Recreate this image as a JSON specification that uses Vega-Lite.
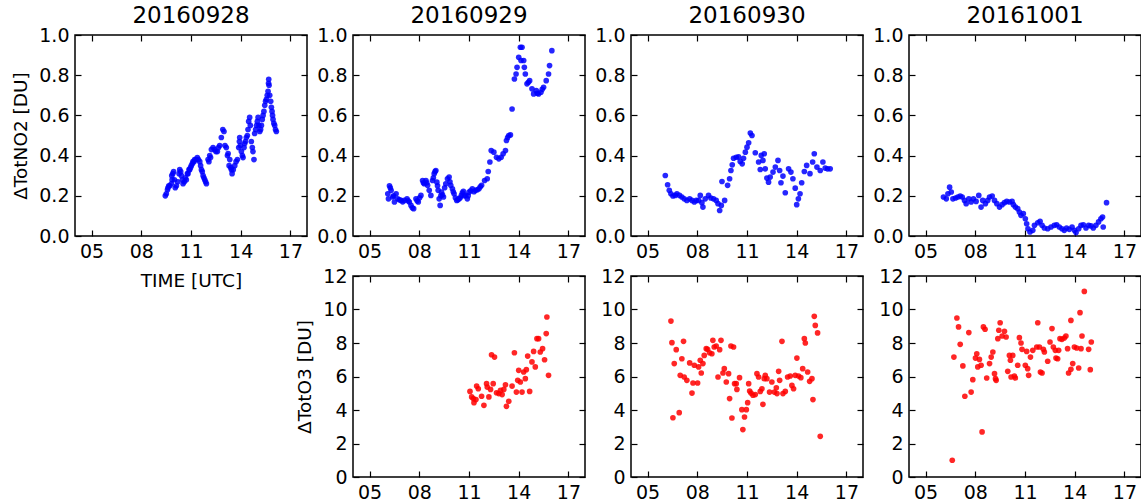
{
  "$schema": "https://vega.github.io/schema/vega-lite/v6.json",
  "padding": {"left": 11, "top": 4, "right": 0, "bottom": 0},
  "background": "white",
  "datasets": {
    "n28": [
      {"t":9.45,"v":0.20},{"t":9.51,"v":0.21},{"t":9.58,"v":0.23},{"t":9.61,"v":0.24},{"t":9.66,"v":0.25},{"t":9.72,"v":0.25},{"t":9.81,"v":0.26},{"t":9.84,"v":0.30},{"t":9.86,"v":0.28},{"t":9.9,"v":0.31},
      {"t":9.95,"v":0.32},{"t":10.0,"v":0.28},{"t":10.05,"v":0.24},{"t":10.12,"v":0.25},{"t":10.2,"v":0.27},{"t":10.28,"v":0.31},{"t":10.32,"v":0.33},{"t":10.38,"v":0.32},{"t":10.42,"v":0.30},{"t":10.48,"v":0.28},
      {"t":10.52,"v":0.26},{"t":10.6,"v":0.27},{"t":10.66,"v":0.29},{"t":10.72,"v":0.28},{"t":10.78,"v":0.31},{"t":10.82,"v":0.31},{"t":10.88,"v":0.33},{"t":10.92,"v":0.33},{"t":10.97,"v":0.34},{"t":11.02,"v":0.35},
      {"t":11.08,"v":0.36},{"t":11.12,"v":0.37},{"t":11.18,"v":0.37},{"t":11.22,"v":0.38},{"t":11.3,"v":0.38},{"t":11.38,"v":0.39},{"t":11.45,"v":0.38},{"t":11.53,"v":0.37},{"t":11.58,"v":0.35},{"t":11.63,"v":0.33},
      {"t":11.68,"v":0.32},{"t":11.73,"v":0.30},{"t":11.78,"v":0.29},{"t":11.83,"v":0.28},{"t":11.88,"v":0.27},{"t":11.93,"v":0.26},{"t":12.03,"v":0.38},{"t":12.08,"v":0.37},{"t":12.13,"v":0.40},{"t":12.18,"v":0.39},
      {"t":12.23,"v":0.43},{"t":12.33,"v":0.44},{"t":12.43,"v":0.43},{"t":12.5,"v":0.42},{"t":12.59,"v":0.42},{"t":12.66,"v":0.44},{"t":12.73,"v":0.45},{"t":12.83,"v":0.49},{"t":12.92,"v":0.53},{"t":12.99,"v":0.52},
      {"t":13.05,"v":0.45},{"t":13.13,"v":0.44},{"t":13.2,"v":0.40},{"t":13.24,"v":0.41},{"t":13.3,"v":0.35},{"t":13.34,"v":0.38},{"t":13.4,"v":0.34},{"t":13.44,"v":0.33},{"t":13.48,"v":0.31},{"t":13.55,"v":0.33},
      {"t":13.64,"v":0.35},{"t":13.72,"v":0.37},{"t":13.8,"v":0.38},{"t":13.88,"v":0.44},{"t":13.92,"v":0.47},{"t":13.94,"v":0.49},{"t":13.98,"v":0.45},{"t":14.04,"v":0.42},{"t":14.1,"v":0.40},{"t":14.14,"v":0.39},
      {"t":14.2,"v":0.44},{"t":14.24,"v":0.46},{"t":14.28,"v":0.47},{"t":14.34,"v":0.49},{"t":14.4,"v":0.50},{"t":14.44,"v":0.53},{"t":14.48,"v":0.57},{"t":14.54,"v":0.59},{"t":14.58,"v":0.55},{"t":14.64,"v":0.47},
      {"t":14.7,"v":0.44},{"t":14.74,"v":0.42},{"t":14.8,"v":0.38},{"t":14.84,"v":0.51},{"t":14.9,"v":0.53},{"t":14.95,"v":0.55},{"t":15.0,"v":0.57},{"t":15.05,"v":0.59},{"t":15.1,"v":0.55},{"t":15.15,"v":0.52},
      {"t":15.2,"v":0.53},{"t":15.25,"v":0.55},{"t":15.3,"v":0.58},{"t":15.35,"v":0.60},{"t":15.4,"v":0.62},{"t":15.45,"v":0.65},{"t":15.5,"v":0.67},{"t":15.55,"v":0.68},{"t":15.6,"v":0.70},{"t":15.65,"v":0.72},
      {"t":15.68,"v":0.76},{"t":15.69,"v":0.78},{"t":15.71,"v":0.75},{"t":15.75,"v":0.70},{"t":15.81,"v":0.67},{"t":15.85,"v":0.64},{"t":15.89,"v":0.62},{"t":15.92,"v":0.60},{"t":15.95,"v":0.58},{"t":16.0,"v":0.56},
      {"t":16.05,"v":0.55},{"t":16.1,"v":0.53},{"t":16.15,"v":0.52}
    ],
    "n29": [
      {"t":6.1,"v":0.21},{"t":6.14,"v":0.185},{"t":6.2,"v":0.25},{"t":6.25,"v":0.24},{"t":6.3,"v":0.227},{"t":6.4,"v":0.194},{"t":6.45,"v":0.2},{"t":6.5,"v":0.169},{"t":6.6,"v":0.21},{"t":6.7,"v":0.185},
      {"t":6.8,"v":0.18},{"t":6.9,"v":0.177},{"t":7.0,"v":0.17},{"t":7.1,"v":0.177},{"t":7.26,"v":0.185},{"t":7.33,"v":0.175},{"t":7.4,"v":0.169},{"t":7.5,"v":0.152},{"t":7.58,"v":0.14},{"t":7.66,"v":0.136},
      {"t":7.8,"v":0.185},{"t":7.87,"v":0.175},{"t":7.94,"v":0.169},{"t":8.02,"v":0.19},{"t":8.1,"v":0.202},{"t":8.2,"v":0.276},{"t":8.25,"v":0.265},{"t":8.3,"v":0.26},{"t":8.4,"v":0.276},{"t":8.45,"v":0.265},
      {"t":8.5,"v":0.252},{"t":8.6,"v":0.227},{"t":8.7,"v":0.202},{"t":8.8,"v":0.276},{"t":8.85,"v":0.29},{"t":8.9,"v":0.31},{"t":8.95,"v":0.32},{"t":9.0,"v":0.326},{"t":9.06,"v":0.268},{"t":9.1,"v":0.25},
      {"t":9.14,"v":0.227},{"t":9.2,"v":0.185},{"t":9.26,"v":0.152},{"t":9.3,"v":0.2},{"t":9.34,"v":0.218},{"t":9.4,"v":0.205},{"t":9.46,"v":0.194},{"t":9.53,"v":0.24},{"t":9.6,"v":0.26},{"t":9.7,"v":0.285},
      {"t":9.8,"v":0.293},{"t":9.85,"v":0.27},{"t":9.9,"v":0.252},{"t":10.0,"v":0.235},{"t":10.05,"v":0.22},{"t":10.1,"v":0.21},{"t":10.18,"v":0.19},{"t":10.26,"v":0.177},{"t":10.33,"v":0.18},{"t":10.4,"v":0.185},
      {"t":10.47,"v":0.19},{"t":10.54,"v":0.202},{"t":10.6,"v":0.215},{"t":10.66,"v":0.222},{"t":10.73,"v":0.2},{"t":10.8,"v":0.202},{"t":10.9,"v":0.185},{"t":10.95,"v":0.2},{"t":11.0,"v":0.218},{"t":11.1,"v":0.225},
      {"t":11.2,"v":0.235},{"t":11.3,"v":0.22},{"t":11.4,"v":0.227},{"t":11.5,"v":0.23},{"t":11.6,"v":0.235},{"t":11.68,"v":0.245},{"t":11.76,"v":0.252},{"t":11.94,"v":0.276},{"t":12.1,"v":0.285},{"t":12.16,"v":0.321},
      {"t":12.26,"v":0.368},{"t":12.34,"v":0.425},{"t":12.5,"v":0.417},{"t":12.66,"v":0.392},{"t":12.8,"v":0.384},{"t":12.94,"v":0.392},{"t":13.06,"v":0.409},{"t":13.2,"v":0.425},{"t":13.26,"v":0.475},{"t":13.33,"v":0.49},
      {"t":13.4,"v":0.5},{"t":13.5,"v":0.503},{"t":13.6,"v":0.632},{"t":13.74,"v":0.781},{"t":13.84,"v":0.806},{"t":13.9,"v":0.839},{"t":14.0,"v":0.889},{"t":14.1,"v":0.939},{"t":14.14,"v":0.873},{"t":14.2,"v":0.939},
      {"t":14.3,"v":0.873},{"t":14.34,"v":0.839},{"t":14.4,"v":0.806},{"t":14.5,"v":0.757},{"t":14.58,"v":0.765},{"t":14.66,"v":0.773},{"t":14.8,"v":0.732},{"t":14.9,"v":0.707},{"t":15.06,"v":0.723},{"t":15.12,"v":0.71},
      {"t":15.2,"v":0.707},{"t":15.34,"v":0.715},{"t":15.42,"v":0.73},{"t":15.5,"v":0.74},{"t":15.66,"v":0.773},{"t":15.8,"v":0.806},{"t":15.86,"v":0.848},{"t":16.0,"v":0.922}
    ],
    "n30": [
      {"t":6.07,"v":0.301},{"t":6.21,"v":0.255},{"t":6.31,"v":0.227},{"t":6.41,"v":0.21},{"t":6.53,"v":0.199},{"t":6.67,"v":0.202},{"t":6.77,"v":0.21},{"t":6.93,"v":0.202},{"t":7.07,"v":0.194},{"t":7.21,"v":0.185},
      {"t":7.37,"v":0.177},{"t":7.54,"v":0.185},{"t":7.68,"v":0.177},{"t":7.82,"v":0.169},{"t":7.94,"v":0.177},{"t":8.08,"v":0.177},{"t":8.18,"v":0.202},{"t":8.28,"v":0.166},{"t":8.34,"v":0.144},{"t":8.48,"v":0.185},
      {"t":8.68,"v":0.202},{"t":8.82,"v":0.189},{"t":8.98,"v":0.185},{"t":9.14,"v":0.177},{"t":9.25,"v":0.161},{"t":9.35,"v":0.127},{"t":9.45,"v":0.152},{"t":9.49,"v":0.271},{"t":9.65,"v":0.177},{"t":9.83,"v":0.252},
      {"t":9.95,"v":0.285},{"t":10.03,"v":0.326},{"t":10.11,"v":0.354},{"t":10.19,"v":0.387},{"t":10.35,"v":0.392},{"t":10.49,"v":0.394},{"t":10.59,"v":0.371},{"t":10.71,"v":0.359},{"t":10.79,"v":0.387},{"t":10.9,"v":0.417},
      {"t":11.0,"v":0.442},{"t":11.1,"v":0.464},{"t":11.2,"v":0.512},{"t":11.3,"v":0.5},{"t":11.5,"v":0.414},{"t":11.7,"v":0.368},{"t":11.8,"v":0.331},{"t":11.86,"v":0.401},{"t":11.96,"v":0.376},{"t":12.04,"v":0.409},
      {"t":12.1,"v":0.334},{"t":12.2,"v":0.288},{"t":12.3,"v":0.268},{"t":12.4,"v":0.293},{"t":12.57,"v":0.318},{"t":12.71,"v":0.343},{"t":12.87,"v":0.376},{"t":12.97,"v":0.326},{"t":13.05,"v":0.265},{"t":13.17,"v":0.298},
      {"t":13.31,"v":0.215},{"t":13.51,"v":0.334},{"t":13.65,"v":0.318},{"t":13.77,"v":0.285},{"t":13.91,"v":0.238},{"t":14.0,"v":0.156},{"t":14.1,"v":0.185},{"t":14.2,"v":0.21},{"t":14.3,"v":0.265},{"t":14.46,"v":0.321},
      {"t":14.6,"v":0.351},{"t":14.8,"v":0.31},{"t":14.96,"v":0.368},{"t":15.06,"v":0.409},{"t":15.22,"v":0.343},{"t":15.42,"v":0.326},{"t":15.58,"v":0.368},{"t":15.72,"v":0.338},{"t":15.86,"v":0.334},{"t":16.02,"v":0.334}
    ],
    "n01": [
      {"t":6.08,"v":0.194},{"t":6.25,"v":0.185},{"t":6.35,"v":0.21},{"t":6.45,"v":0.243},{"t":6.55,"v":0.219},{"t":6.65,"v":0.185},{"t":6.81,"v":0.189},{"t":6.95,"v":0.194},{"t":7.09,"v":0.199},{"t":7.21,"v":0.194},
      {"t":7.35,"v":0.177},{"t":7.45,"v":0.161},{"t":7.61,"v":0.185},{"t":7.75,"v":0.169},{"t":7.89,"v":0.185},{"t":8.05,"v":0.172},{"t":8.21,"v":0.202},{"t":8.35,"v":0.144},{"t":8.45,"v":0.177},{"t":8.61,"v":0.161},
      {"t":8.75,"v":0.177},{"t":8.86,"v":0.194},{"t":9.02,"v":0.199},{"t":9.16,"v":0.177},{"t":9.3,"v":0.161},{"t":9.46,"v":0.144},{"t":9.62,"v":0.156},{"t":9.76,"v":0.166},{"t":9.9,"v":0.172},{"t":10.06,"v":0.169},
      {"t":10.22,"v":0.172},{"t":10.3,"v":0.156},{"t":10.42,"v":0.144},{"t":10.56,"v":0.136},{"t":10.66,"v":0.119},{"t":10.76,"v":0.103},{"t":10.9,"v":0.111},{"t":11.02,"v":0.086},{"t":11.1,"v":0.061},{"t":11.18,"v":0.036},
      {"t":11.3,"v":0.02},{"t":11.47,"v":0.028},{"t":11.57,"v":0.053},{"t":11.77,"v":0.066},{"t":11.91,"v":0.073},{"t":12.03,"v":0.053},{"t":12.17,"v":0.04},{"t":12.37,"v":0.036},{"t":12.57,"v":0.045},{"t":12.77,"v":0.053},
      {"t":12.91,"v":0.056},{"t":13.07,"v":0.045},{"t":13.23,"v":0.036},{"t":13.37,"v":0.028},{"t":13.51,"v":0.04},{"t":13.67,"v":0.033},{"t":13.84,"v":0.045},{"t":13.98,"v":0.028},{"t":14.08,"v":0.017},{"t":14.24,"v":0.036},
      {"t":14.38,"v":0.053},{"t":14.52,"v":0.056},{"t":14.68,"v":0.04},{"t":14.84,"v":0.053},{"t":14.98,"v":0.05},{"t":15.12,"v":0.04},{"t":15.28,"v":0.053},{"t":15.44,"v":0.07},{"t":15.58,"v":0.086},{"t":15.68,"v":0.094},
      {"t":15.72,"v":0.045},{"t":15.92,"v":0.166}
    ],
    "o29": [
      {"t":11.06,"v":5.11},{"t":11.16,"v":4.78},{"t":11.26,"v":4.68},{"t":11.3,"v":4.44},{"t":11.42,"v":4.62},{"t":11.46,"v":5.43},{"t":11.56,"v":5.27},{"t":11.76,"v":4.82},{"t":11.9,"v":4.28},{"t":12.06,"v":5.57},
      {"t":12.1,"v":5.37},{"t":12.2,"v":4.78},{"t":12.3,"v":5.23},{"t":12.36,"v":7.30},{"t":12.46,"v":5.57},{"t":12.54,"v":7.16},{"t":12.66,"v":5.03},{"t":12.8,"v":4.98},{"t":12.9,"v":5.17},{"t":13.0,"v":4.92},
      {"t":13.1,"v":5.23},{"t":13.2,"v":5.51},{"t":13.26,"v":4.22},{"t":13.4,"v":4.52},{"t":13.6,"v":5.43},{"t":13.74,"v":7.42},{"t":13.86,"v":5.07},{"t":13.94,"v":5.77},{"t":14.0,"v":6.37},{"t":14.1,"v":5.67},
      {"t":14.2,"v":5.07},{"t":14.3,"v":6.27},{"t":14.4,"v":5.87},{"t":14.46,"v":6.41},{"t":14.54,"v":7.22},{"t":14.66,"v":5.11},{"t":14.8,"v":6.87},{"t":14.9,"v":7.50},{"t":15.0,"v":6.57},{"t":15.1,"v":8.26},
      {"t":15.2,"v":8.26},{"t":15.3,"v":7.46},{"t":15.44,"v":7.66},{"t":15.56,"v":7.0},{"t":15.66,"v":8.56},{"t":15.7,"v":9.55},{"t":15.8,"v":6.07}
    ],
    "o30": [
      {"t":6.41,"v":9.31},{"t":6.47,"v":8.02},{"t":6.53,"v":3.54},{"t":6.61,"v":6.77},{"t":6.73,"v":7.6},{"t":6.91,"v":3.84},{"t":6.97,"v":6.07},{"t":7.07,"v":7.06},{"t":7.17,"v":8.1},{"t":7.21,"v":5.97},
      {"t":7.37,"v":5.77},{"t":7.54,"v":6.81},{"t":7.68,"v":5.01},{"t":7.74,"v":5.61},{"t":7.82,"v":6.67},{"t":8.02,"v":5.61},{"t":8.08,"v":6.57},{"t":8.18,"v":6.97},{"t":8.24,"v":6.21},{"t":8.34,"v":6.77},
      {"t":8.42,"v":7.26},{"t":8.54,"v":7.66},{"t":8.62,"v":7.62},{"t":8.74,"v":7.42},{"t":8.88,"v":7.36},{"t":8.94,"v":8.16},{"t":9.02,"v":7.76},{"t":9.14,"v":7.82},{"t":9.25,"v":5.97},{"t":9.35,"v":7.6},
      {"t":9.43,"v":8.16},{"t":9.55,"v":6.21},{"t":9.63,"v":6.47},{"t":9.75,"v":5.67},{"t":9.89,"v":6.17},{"t":9.95,"v":4.68},{"t":10.03,"v":7.82},{"t":10.09,"v":3.52},{"t":10.19,"v":7.76},{"t":10.25,"v":5.57},
      {"t":10.35,"v":5.57},{"t":10.39,"v":5.23},{"t":10.55,"v":5.93},{"t":10.69,"v":4.02},{"t":10.75,"v":2.83},{"t":10.85,"v":3.58},{"t":10.96,"v":4.02},{"t":11.04,"v":4.44},{"t":11.1,"v":5.57},{"t":11.16,"v":5.13},
      {"t":11.24,"v":5.01},{"t":11.36,"v":4.88},{"t":11.5,"v":4.92},{"t":11.6,"v":6.17},{"t":11.7,"v":5.97},{"t":11.8,"v":5.11},{"t":11.9,"v":5.27},{"t":11.96,"v":4.34},{"t":12.04,"v":5.87},{"t":12.1,"v":6.07},
      {"t":12.2,"v":5.87},{"t":12.36,"v":5.07},{"t":12.5,"v":5.67},{"t":12.65,"v":5.07},{"t":12.77,"v":5.33},{"t":12.81,"v":4.98},{"t":12.91,"v":6.31},{"t":12.97,"v":5.77},{"t":13.11,"v":8.1},{"t":13.17,"v":4.98},
      {"t":13.31,"v":5.11},{"t":13.45,"v":5.97},{"t":13.61,"v":6.03},{"t":13.71,"v":5.47},{"t":13.81,"v":5.27},{"t":13.91,"v":6.07},{"t":14.01,"v":7.1},{"t":14.11,"v":6.03},{"t":14.25,"v":5.93},{"t":14.36,"v":6.47},
      {"t":14.46,"v":8.26},{"t":14.52,"v":8.0},{"t":14.66,"v":6.27},{"t":14.78,"v":5.71},{"t":14.92,"v":5.87},{"t":14.98,"v":4.62},{"t":15.06,"v":9.59},{"t":15.12,"v":9.05},{"t":15.26,"v":8.6},{"t":15.42,"v":2.43}
    ],
    "o01": [
      {"t":6.61,"v":1.0},{"t":6.71,"v":7.16},{"t":6.89,"v":9.49},{"t":6.99,"v":8.96},{"t":7.09,"v":7.92},{"t":7.25,"v":6.63},{"t":7.37,"v":4.82},{"t":7.61,"v":8.62},{"t":7.75,"v":5.07},{"t":7.85,"v":5.81},
      {"t":8.01,"v":7.1},{"t":8.09,"v":7.36},{"t":8.15,"v":6.57},{"t":8.25,"v":7.02},{"t":8.35,"v":6.67},{"t":8.41,"v":2.69},{"t":8.49,"v":8.96},{"t":8.59,"v":8.82},{"t":8.69,"v":5.91},{"t":8.86,"v":6.77},
      {"t":8.96,"v":7.16},{"t":9.06,"v":7.46},{"t":9.16,"v":6.17},{"t":9.22,"v":5.87},{"t":9.26,"v":5.77},{"t":9.36,"v":8.26},{"t":9.42,"v":8.76},{"t":9.5,"v":9.21},{"t":9.62,"v":8.42},{"t":9.76,"v":8.7},
      {"t":9.86,"v":8.36},{"t":9.96,"v":6.31},{"t":10.06,"v":7.26},{"t":10.12,"v":6.97},{"t":10.16,"v":5.97},{"t":10.26,"v":7.26},{"t":10.36,"v":6.03},{"t":10.42,"v":5.91},{"t":10.56,"v":6.67},{"t":10.66,"v":8.32},
      {"t":10.76,"v":8.0},{"t":10.82,"v":7.62},{"t":11.02,"v":6.67},{"t":11.1,"v":7.5},{"t":11.16,"v":6.47},{"t":11.22,"v":6.07},{"t":11.33,"v":7.16},{"t":11.47,"v":7.56},{"t":11.71,"v":7.76},{"t":11.77,"v":9.21},
      {"t":11.87,"v":7.76},{"t":11.93,"v":6.27},{"t":12.03,"v":6.21},{"t":12.11,"v":7.62},{"t":12.17,"v":7.46},{"t":12.37,"v":6.91},{"t":12.51,"v":8.06},{"t":12.63,"v":8.86},{"t":12.71,"v":7.76},{"t":12.83,"v":7.56},
      {"t":12.87,"v":7.1},{"t":12.97,"v":7.06},{"t":13.03,"v":7.56},{"t":13.11,"v":8.26},{"t":13.23,"v":8.22},{"t":13.37,"v":8.3},{"t":13.47,"v":8.42},{"t":13.57,"v":7.66},{"t":13.63,"v":6.21},{"t":13.77,"v":9.35},
      {"t":13.77,"v":6.43},{"t":13.88,"v":6.77},{"t":13.98,"v":7.76},{"t":14.12,"v":7.7},{"t":14.24,"v":6.51},{"t":14.32,"v":9.81},{"t":14.38,"v":7.66},{"t":14.44,"v":8.42},{"t":14.58,"v":11.08},{"t":14.84,"v":7.62},
      {"t":14.94,"v":6.41},{"t":15.0,"v":8.06}
    ]
  },
  "columns": 4,
  "bounds": "flush",
  "spacing": {"row": 40, "column": 46},
  "concat": [
    {
      "title": "20160928", "width": 232, "height": 201, "data": {"name": "n28"},
      "layer": [
        {"mark": {"type": "circle", "size": 32, "color": "#0000ff", "opacity": 0.85},
         "encoding": {
           "x": {"field": "t", "type": "quantitative", "scale": {"domain": [4, 18], "nice": false, "zero": false}, "axis": {"orient": "bottom", "values": [5, 8, 11, 14, 17], "format": "02d", "title": "TIME [UTC]", "titlePadding": 10}},
           "y": {"field": "v", "type": "quantitative", "scale": {"domain": [0, 1], "nice": false}, "axis": {"orient": "left", "values": [0, 0.2, 0.4, 0.6, 0.8, 1.0], "format": ".1f", "title": "ΔTotNO2 [DU]", "titlePadding": 8}}}},
        {"mark": {"type": "circle", "opacity": 0},
         "encoding": {
           "x": {"field": "t", "type": "quantitative", "axis": {"orient": "top", "values": [5, 8, 11, 14, 17], "labels": false, "title": null}},
           "y": {"field": "v", "type": "quantitative", "axis": {"orient": "right", "values": [0, 0.2, 0.4, 0.6, 0.8, 1.0], "labels": false, "title": null}}}}
      ],
      "resolve": {"axis": {"x": "independent", "y": "independent"}}
    },
    {
      "title": "20160929", "width": 232, "height": 201, "data": {"name": "n29"},
      "layer": [
        {"mark": {"type": "circle", "size": 32, "color": "#0000ff", "opacity": 0.85},
         "encoding": {
           "x": {"field": "t", "type": "quantitative", "scale": {"domain": [4, 18], "nice": false, "zero": false}, "axis": {"orient": "bottom", "values": [5, 8, 11, 14, 17], "format": "02d", "title": null}},
           "y": {"field": "v", "type": "quantitative", "scale": {"domain": [0, 1], "nice": false}, "axis": {"orient": "left", "values": [0, 0.2, 0.4, 0.6, 0.8, 1.0], "format": ".1f", "title": null}}}},
        {"mark": {"type": "circle", "opacity": 0},
         "encoding": {
           "x": {"field": "t", "type": "quantitative", "axis": {"orient": "top", "values": [5, 8, 11, 14, 17], "labels": false, "title": null}},
           "y": {"field": "v", "type": "quantitative", "axis": {"orient": "right", "values": [0, 0.2, 0.4, 0.6, 0.8, 1.0], "labels": false, "title": null}}}}
      ],
      "resolve": {"axis": {"x": "independent", "y": "independent"}}
    },
    {
      "title": "20160930", "width": 232, "height": 201, "data": {"name": "n30"},
      "layer": [
        {"mark": {"type": "circle", "size": 32, "color": "#0000ff", "opacity": 0.85},
         "encoding": {
           "x": {"field": "t", "type": "quantitative", "scale": {"domain": [4, 18], "nice": false, "zero": false}, "axis": {"orient": "bottom", "values": [5, 8, 11, 14, 17], "format": "02d", "title": null}},
           "y": {"field": "v", "type": "quantitative", "scale": {"domain": [0, 1], "nice": false}, "axis": {"orient": "left", "values": [0, 0.2, 0.4, 0.6, 0.8, 1.0], "format": ".1f", "title": null}}}},
        {"mark": {"type": "circle", "opacity": 0},
         "encoding": {
           "x": {"field": "t", "type": "quantitative", "axis": {"orient": "top", "values": [5, 8, 11, 14, 17], "labels": false, "title": null}},
           "y": {"field": "v", "type": "quantitative", "axis": {"orient": "right", "values": [0, 0.2, 0.4, 0.6, 0.8, 1.0], "labels": false, "title": null}}}}
      ],
      "resolve": {"axis": {"x": "independent", "y": "independent"}}
    },
    {
      "title": "20161001", "width": 232, "height": 201, "data": {"name": "n01"},
      "layer": [
        {"mark": {"type": "circle", "size": 32, "color": "#0000ff", "opacity": 0.85},
         "encoding": {
           "x": {"field": "t", "type": "quantitative", "scale": {"domain": [4, 18], "nice": false, "zero": false}, "axis": {"orient": "bottom", "values": [5, 8, 11, 14, 17], "format": "02d", "title": null}},
           "y": {"field": "v", "type": "quantitative", "scale": {"domain": [0, 1], "nice": false}, "axis": {"orient": "left", "values": [0, 0.2, 0.4, 0.6, 0.8, 1.0], "format": ".1f", "title": null}}}},
        {"mark": {"type": "circle", "opacity": 0},
         "encoding": {
           "x": {"field": "t", "type": "quantitative", "axis": {"orient": "top", "values": [5, 8, 11, 14, 17], "labels": false, "title": null}},
           "y": {"field": "v", "type": "quantitative", "axis": {"orient": "right", "values": [0, 0.2, 0.4, 0.6, 0.8, 1.0], "labels": false, "title": null}}}}
      ],
      "resolve": {"axis": {"x": "independent", "y": "independent"}}
    },
    {
      "width": 232, "height": 201, "view": {"stroke": null},
      "data": {"values": [{}]},
      "mark": {"type": "point", "opacity": 0},
      "encoding": {}
    },
    {
      "width": 232, "height": 201, "data": {"name": "o29"},
      "layer": [
        {"mark": {"type": "circle", "size": 32, "color": "#ff0000", "opacity": 0.85},
         "encoding": {
           "x": {"field": "t", "type": "quantitative", "scale": {"domain": [4, 18], "nice": false, "zero": false}, "axis": {"orient": "bottom", "values": [5, 8, 11, 14, 17], "format": "02d", "title": null}},
           "y": {"field": "v", "type": "quantitative", "scale": {"domain": [0, 12], "nice": false}, "axis": {"orient": "left", "values": [0, 2, 4, 6, 8, 10, 12], "format": "d", "title": "ΔTotO3 [DU]", "titlePadding": 8}}}},
        {"mark": {"type": "circle", "opacity": 0},
         "encoding": {
           "x": {"field": "t", "type": "quantitative", "axis": {"orient": "top", "values": [5, 8, 11, 14, 17], "labels": false, "title": null}},
           "y": {"field": "v", "type": "quantitative", "axis": {"orient": "right", "values": [0, 2, 4, 6, 8, 10, 12], "labels": false, "title": null}}}}
      ],
      "resolve": {"axis": {"x": "independent", "y": "independent"}}
    },
    {
      "width": 232, "height": 201, "data": {"name": "o30"},
      "layer": [
        {"mark": {"type": "circle", "size": 32, "color": "#ff0000", "opacity": 0.85},
         "encoding": {
           "x": {"field": "t", "type": "quantitative", "scale": {"domain": [4, 18], "nice": false, "zero": false}, "axis": {"orient": "bottom", "values": [5, 8, 11, 14, 17], "format": "02d", "title": null}},
           "y": {"field": "v", "type": "quantitative", "scale": {"domain": [0, 12], "nice": false}, "axis": {"orient": "left", "values": [0, 2, 4, 6, 8, 10, 12], "format": "d", "title": null}}}},
        {"mark": {"type": "circle", "opacity": 0},
         "encoding": {
           "x": {"field": "t", "type": "quantitative", "axis": {"orient": "top", "values": [5, 8, 11, 14, 17], "labels": false, "title": null}},
           "y": {"field": "v", "type": "quantitative", "axis": {"orient": "right", "values": [0, 2, 4, 6, 8, 10, 12], "labels": false, "title": null}}}}
      ],
      "resolve": {"axis": {"x": "independent", "y": "independent"}}
    },
    {
      "width": 232, "height": 201, "data": {"name": "o01"},
      "layer": [
        {"mark": {"type": "circle", "size": 32, "color": "#ff0000", "opacity": 0.85},
         "encoding": {
           "x": {"field": "t", "type": "quantitative", "scale": {"domain": [4, 18], "nice": false, "zero": false}, "axis": {"orient": "bottom", "values": [5, 8, 11, 14, 17], "format": "02d", "title": null}},
           "y": {"field": "v", "type": "quantitative", "scale": {"domain": [0, 12], "nice": false}, "axis": {"orient": "left", "values": [0, 2, 4, 6, 8, 10, 12], "format": "d", "title": null}}}},
        {"mark": {"type": "circle", "opacity": 0},
         "encoding": {
           "x": {"field": "t", "type": "quantitative", "axis": {"orient": "top", "values": [5, 8, 11, 14, 17], "labels": false, "title": null}},
           "y": {"field": "v", "type": "quantitative", "axis": {"orient": "right", "values": [0, 2, 4, 6, 8, 10, 12], "labels": false, "title": null}}}}
      ],
      "resolve": {"axis": {"x": "independent", "y": "independent"}}
    }
  ],
  "config": {
    "font": "DejaVu Sans",
    "view": {"stroke": "black", "strokeWidth": 1.5},
    "axis": {"grid": false, "domain": false, "ticks": true, "tickColor": "black", "tickSize": -6, "tickWidth": 1.2, "labelFont": "DejaVu Sans", "labelFontSize": 19, "labelColor": "black", "labelPadding": 12, "labelFlush": false, "labelOverlap": false, "titleFont": "DejaVu Sans", "titleFontSize": 18.5, "titleFontWeight": "normal", "titleColor": "black"},
    "title": {"font": "DejaVu Sans", "fontSize": 23, "fontWeight": "normal", "color": "black", "offset": -2}
  }
}
